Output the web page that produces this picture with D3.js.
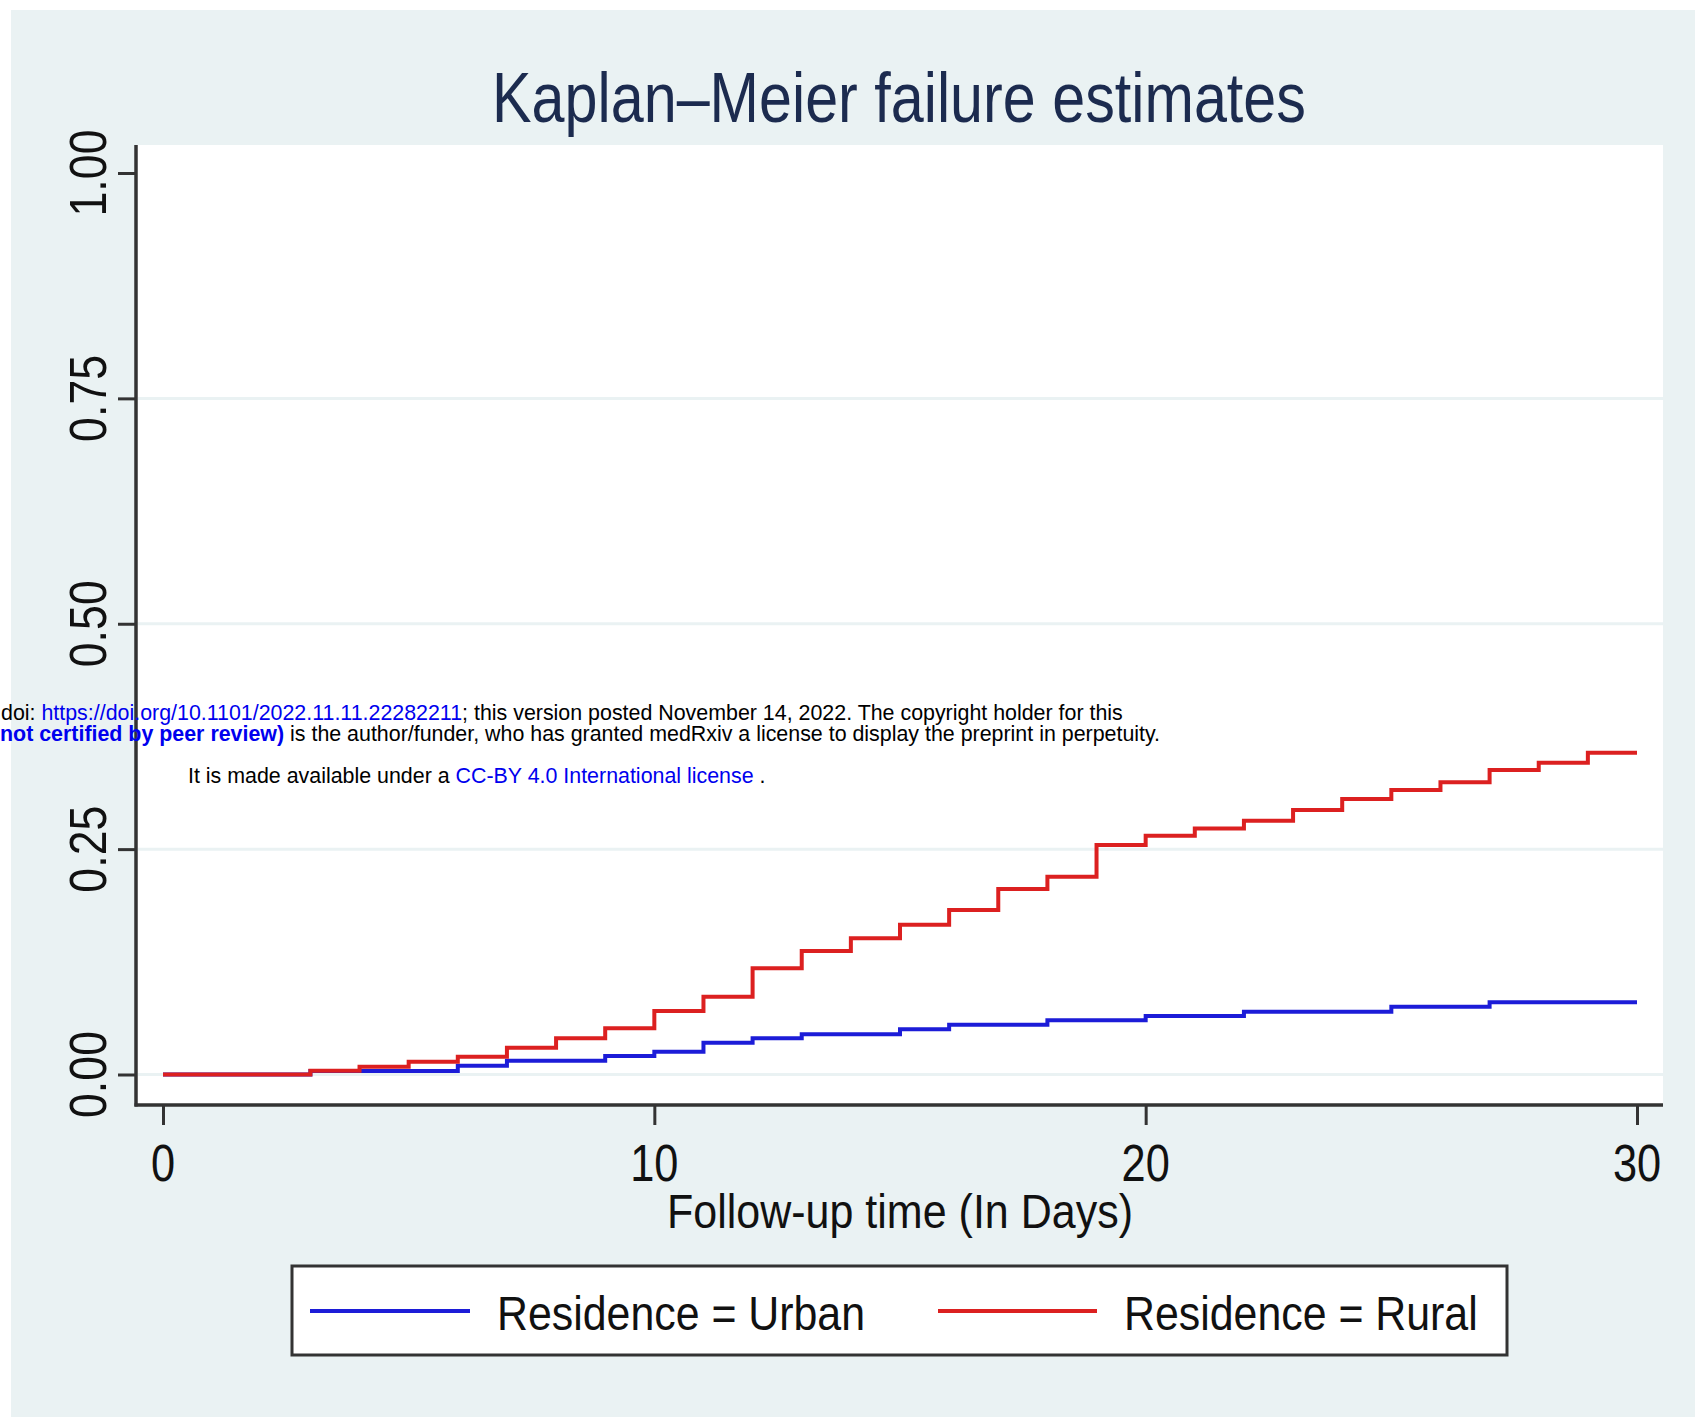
<!DOCTYPE html>
<html>
<head>
<meta charset="utf-8">
<script src="https://cdn.jsdelivr.net/npm/d3@7/dist/d3.min.js"></script>
<style>
  html, body { margin: 0; padding: 0; background: #ffffff; }
  svg { display: block; }
  text { font-family: Arial, "Liberation Sans", Helvetica, sans-serif; }
</style>
</head>
<body>
<svg id="chart" width="1695" height="1417"></svg>
<script>
// ---- Data ----
const days = [0,1,2,3,4,5,6,7,8,9,10,11,12,13,14,15,16,17,18,19,20,21,22,23,24,25,26,27,28,29,30];
const urbanFailure = [0,0,0,0.004,0.004,0.004,0.0098,0.0153,0.0153,0.0205,0.0253,0.0353,0.0401,0.0446,0.0446,0.0501,0.0552,0.0552,0.0603,0.0603,0.0649,0.0649,0.0697,0.0697,0.0697,0.0752,0.0752,0.0801,0.0801,0.0801,0.0801];
const ruralFailure = [0,0,0,0.0042,0.0087,0.0142,0.0198,0.0298,0.0401,0.0512,0.0705,0.0863,0.1178,0.137,0.151,0.166,0.1825,0.2058,0.2194,0.2546,0.2649,0.273,0.2815,0.2934,0.3056,0.3156,0.3241,0.3378,0.3459,0.357,0.357];
const seriesNames = ["Residence = Urban", "Residence = Rural"];
const xTicks = [0, 10, 20, 30];
const yTicks = [0, 0.25, 0.5, 0.75, 1];
const yTickLabels = ["0.00", "0.25", "0.50", "0.75", "1.00"];
const yGrid = [0, 0.25, 0.5, 0.75];
const titleText = "Kaplan\u2013Meier failure estimates";
const xTitleText = "Follow-up time (In Days)";

// ---- Layout ----
const svg = d3.select("#chart");
const W = 1695, H = 1417;
const bg = "#EAF2F3";
const plotLeft = 136, plotRight = 1663, plotTop = 145, plotBottom = 1105;

const x = d3.scaleLinear().domain([0, 30]).range([163, 1637]);
const y = d3.scaleLinear().domain([0, 1]).range([1074.5, 173]);

// graph region background
svg.append("rect").attr("x", 11).attr("y", 10).attr("width", W - 11).attr("height", H - 10).attr("fill", bg);
// plot region
svg.append("rect").attr("x", plotLeft).attr("y", plotTop)
  .attr("width", plotRight - plotLeft).attr("height", plotBottom - plotTop).attr("fill", "#ffffff");

// gridlines
svg.append("g").selectAll("line").data(yGrid).join("line")
  .attr("x1", plotLeft + 2).attr("x2", plotRight)
  .attr("y1", d => y(d)).attr("y2", d => y(d))
  .attr("stroke", bg).attr("stroke-width", 3);

// axes via d3
const yAxis = d3.axisLeft(y).tickValues(yTicks).tickSize(18).tickFormat(() => "");
const gy = svg.append("g").attr("transform", `translate(${plotLeft},0)`).call(yAxis);
gy.select(".domain").remove();
gy.selectAll(".tick line").attr("stroke", "#333").attr("stroke-width", 3);

const xAxis = d3.axisBottom(x).tickValues(xTicks).tickSize(20).tickFormat(() => "");
const gx = svg.append("g").attr("transform", `translate(0,${plotBottom})`).call(xAxis);
gx.select(".domain").remove();
gx.selectAll(".tick line").attr("stroke", "#333").attr("stroke-width", 3);

// axis lines
svg.append("line").attr("x1", plotLeft).attr("x2", plotLeft).attr("y1", plotTop).attr("y2", plotBottom + 1.5)
  .attr("stroke", "#333").attr("stroke-width", 3.5);
svg.append("line").attr("x1", plotLeft - 1.5).attr("x2", plotRight).attr("y1", plotBottom).attr("y2", plotBottom)
  .attr("stroke", "#333").attr("stroke-width", 3.5);

// tick labels (condensed like the reference)
svg.append("g").selectAll("g").data(xTicks).join("g")
  .attr("transform", d => `translate(${x(d)},1181) scale(0.85,1)`)
  .append("text").attr("text-anchor", "middle").attr("font-size", 51).attr("fill", "#111")
  .text(d => String(d));

svg.append("g").selectAll("g").data(yTicks).join("g")
  .attr("transform", d => `translate(106,${y(d)}) rotate(-90) scale(0.86,1)`)
  .append("text").attr("text-anchor", "middle").attr("font-size", 52).attr("fill", "#111")
  .text((d, i) => yTickLabels[i]);

// step curves
const line = d3.line().curve(d3.curveStepAfter).x(d => x(d[0])).y(d => y(d[1]));
const urbanPts = days.map((d, i) => [d, urbanFailure[i]]);
const ruralPts = days.map((d, i) => [d, ruralFailure[i]]);
const colors = ["#1c1cd8", "#dc2020"];
svg.append("path").datum(urbanPts).attr("d", line).attr("fill", "none")
  .attr("stroke", colors[0]).attr("stroke-width", 4);
svg.append("path").datum(ruralPts).attr("d", line).attr("fill", "none")
  .attr("stroke", colors[1]).attr("stroke-width", 4);

// title
svg.append("g").attr("transform", "translate(899,122) scale(0.847,1)")
  .append("text").attr("text-anchor", "middle").attr("font-size", 70).attr("fill", "#1c2b4f")
  .text(titleText);

// x axis title
svg.append("g").attr("transform", "translate(900,1228) scale(0.878,1)")
  .append("text").attr("text-anchor", "middle").attr("font-size", 49).attr("fill", "#111")
  .text(xTitleText);

// legend
svg.append("rect").attr("x", 292).attr("y", 1266).attr("width", 1215).attr("height", 89)
  .attr("fill", "#fff").attr("stroke", "#333").attr("stroke-width", 3);
const legendItems = [
  { x1: 310, x2: 470, tx: 497 },
  { x1: 938, x2: 1097, tx: 1124 }
];
legendItems.forEach((it, i) => {
  svg.append("line").attr("x1", it.x1).attr("x2", it.x2).attr("y1", 1311).attr("y2", 1311)
    .attr("stroke", colors[i]).attr("stroke-width", 4);
  svg.append("g").attr("transform", `translate(${it.tx},1330) scale(0.875,1)`)
    .append("text").attr("font-size", 49).attr("fill", "#111").text(seriesNames[i]);
});

// medRxiv overlay text
const ov = svg.append("g").attr("font-size", 21.4).attr("fill", "#000");
const l1 = ov.append("text").attr("x", 1).attr("y", 720);
l1.append("tspan").text("doi: ");
l1.append("tspan").attr("fill", "#0000ee").text("https://doi.org/10.1101/2022.11.11.22282211");
l1.append("tspan").text("; this version posted November 14, 2022. The copyright holder for this");
const l2 = ov.append("text").attr("x", 0).attr("y", 741);
l2.append("tspan").attr("fill", "#0000ee").attr("font-weight", "bold").text("not certified by peer review)");
l2.append("tspan").text(" is the author/funder, who has granted medRxiv a license to display the preprint in perpetuity.");
const l3 = ov.append("text").attr("x", 188).attr("y", 783);
l3.append("tspan").text("It is made available under a ");
l3.append("tspan").attr("fill", "#0000ee").text("CC-BY 4.0 International license");
l3.append("tspan").text(" .");
</script>
</body>
</html>
